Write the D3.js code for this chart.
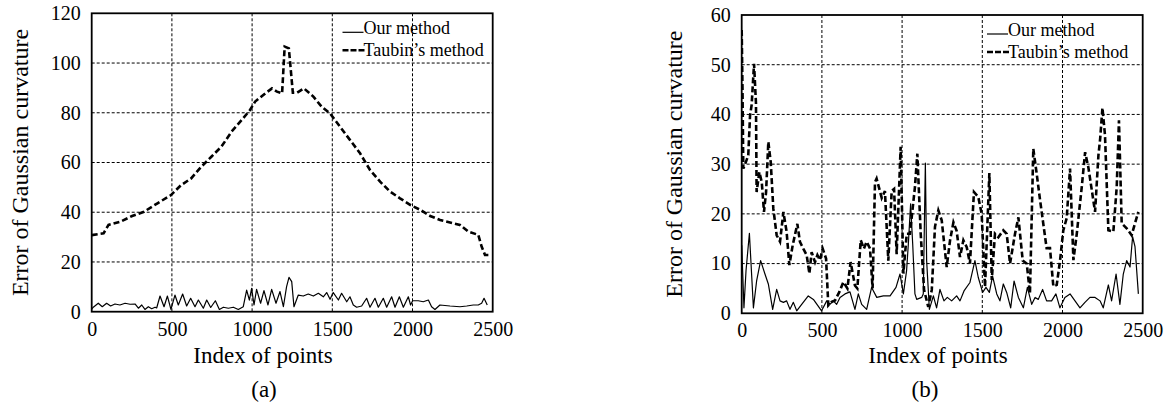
<!DOCTYPE html>
<html>
<head>
<meta charset="utf-8">
<script src="https://cdn.jsdelivr.net/npm/d3@7"></script>
<style>
  body { margin: 0; background: #fff; }
</style>
</head>
<body>
<div id="chartHolder"></div>
<script>
// tick labels
const xTicks = [0, 500, 1000, 1500, 2000, 2500];
const yTicksA = [0, 20, 40, 60, 80, 100, 120];
const yTicksB = [0, 10, 20, 30, 40, 50, 60];
const seriesNames = ["Our method", "Taubin\u2019s method"];

// panel (a): [index, error]
const oursA = [[0,1.0],[10,1.8],[41,3.4],[66,2.0],[93,3.4],[118,2.3],[145,3.1],[176,2.7],[208,3.4],[239,3.0],
  [270,3.1],[291,1.4],[312,2.7],[332,0.9],[353,2.0],[374,1.2],[395,1.8],[405,1.5],[426,6.3],[451,2.0],[472,6.3],
  [494,0.9],[519,6.7],[540,2.7],[567,7.1],[592,2.3],[617,5.4],[644,2.0],[665,4.7],[696,1.4],[717,4.7],[742,1.7],
  [771,4.4],[796,0.9],[821,1.8],[852,1.4],[883,1.8],[914,0.9],[945,2.0],[966,8.7],[983,4.7],[997,9.4],[1012,2.7],
  [1028,9.0],[1053,3.4],[1074,8.5],[1099,2.7],[1122,9.0],[1149,3.4],[1174,8.1],[1195,2.0],[1215,10.1],[1230,13.8],
  [1247,12.1],[1261,2.0],[1288,6.7],[1319,6.3],[1350,7.1],[1382,6.3],[1413,7.4],[1444,6.0],[1465,7.7],[1486,5.0],
  [1506,7.7],[1538,4.7],[1558,7.4],[1590,4.0],[1610,6.0],[1631,2.7],[1652,1.8],[1683,2.3],[1714,5.4],[1735,1.8],
  [1766,5.4],[1787,1.8],[1818,5.4],[1839,1.8],[1870,6.0],[1891,1.8],[1918,6.0],[1943,1.8],[1974,6.0],[1988,2.7],
  [2001,4.4],[2036,4.4],[2067,4.0],[2099,4.7],[2119,2.0],[2140,0.9],[2171,2.7],[2234,2.3],[2296,2.0],[2338,2.3],
  [2379,2.7],[2410,2.7],[2431,3.4],[2446,5.4],[2466,2.7]];

const taubinA = [[0,30.8],[74,31.5],[105,34.9],[179,36.2],[252,38.5],[326,40.2],[410,43.6],[494,46.9],[557,50.9],
  [620,53.6],[683,58.3],[746,62.3],[809,66.4],[872,72.4],[935,77.1],[987,81.1],[1019,84.5],[1082,87.8],[1124,89.8],
  [1155,88.5],[1187,87.8],[1203,106.6],[1229,105.9],[1254,88.1],[1281,88.1],[1323,89.8],[1382,86.5],[1434,82.4],
  [1486,79.7],[1548,74.4],[1611,69],[1673,63.7],[1735,57],[1798,52.3],[1860,48.3],[1922,45.6],[1985,43],[2047,41],
  [2110,38.5],[2172,36.9],[2234,35.9],[2296,34.9],[2348,32.2],[2410,30.9],[2431,26.2],[2452,22.8],[2473,22.8]];

// panel (b)
const oursB = [[0,13.7],[14,1.1],[27,8.6],[48,16.1],[73,1.1],[93,6.5],[118,10.6],[145,7.9],[166,5.9],[193,0.8],
  [218,4.8],[239,2.5],[260,2.2],[280,2.5],[301,0.8],[322,2.2],[343,0.5],[374,1.8],[415,3.5],[447,2.8],[498,0.5],
  [530,2.5],[550,1.8],[571,2.5],[592,1.8],[613,3.2],[644,3.9],[675,4.3],[706,0.8],[727,3.9],[748,1.8],[779,0.8],
  [810,5.2],[842,3.2],[883,3.5],[925,3.5],[962,5.2],[987,7.9],[1008,3.9],[1028,8.6],[1039,14],[1053,22],[1066,14],
  [1080,3.9],[1091,2.8],[1122,3.2],[1132,3.9],[1145,30.2],[1153,10.6],[1170,0.8],[1195,3.5],[1215,1.1],[1236,4.8],
  [1261,2.5],[1282,3.2],[1309,2.5],[1340,3.5],[1361,2.5],[1386,4.5],[1423,6.2],[1454,10.6],[1475,7.2],[1502,4.2],
  [1523,5.2],[1544,4.2],[1564,7.5],[1590,3.9],[1610,2.5],[1631,5.9],[1652,4.2],[1677,1.1],[1698,6.5],[1725,3.2],
  [1756,1.1],[1781,5.2],[1808,1.8],[1829,3.2],[1849,2.8],[1876,4.8],[1901,2.5],[1932,2.5],[1959,3.9],[1984,1.1],
  [2015,3.2],[2047,3.9],[2078,2.5],[2109,1.1],[2140,2.2],[2171,3.2],[2203,3.2],[2234,2.5],[2254,1.1],[2286,5.7],
  [2306,2.5],[2334,7.9],[2358,1.8],[2379,7.9],[2400,10.6],[2421,9.3],[2437,15.4],[2452,13.4],[2473,3.9]];

const taubinB = [[0,57],[5,45],[10,29.1],[27,30.5],[41,31.8],[52,39.8],[62,41.9],[77,50.2],[89,42.2],[93,24.4],
  [110,28.4],[125,26.4],[139,20.4],[152,24.4],[166,34.5],[181,30.4],[197,21.1],[218,15.7],[239,14.4],[260,20.4],
  [280,16.4],[297,9.7],[318,13.7],[347,18.0],[363,14.4],[384,13.0],[405,11.7],[422,8.0],[436,12.3],[457,10.3],
  [472,11.7],[488,10.7],[505,13.0],[526,11.0],[540,1.6],[561,2.3],[582,2.6],[609,4.3],[634,6.3],[659,5.0],
  [679,10.3],[706,5.6],[721,5.0],[742,14.7],[762,13.0],[779,14.4],[800,13.0],[816,5.0],[831,26.4],[841,27.1],
  [873,23.2],[893,24.6],[914,10.6],[935,24.6],[950,25.0],[966,11.9],[991,33.5],[1008,8.0],[1029,16],[1049,16],
  [1080,25.4],[1095,32.1],[1116,16],[1137,4.7],[1163,1.3],[1185,4.7],[1205,17.4],[1226,20.7],[1247,18.7],
  [1278,9.3],[1299,14.7],[1320,18.3],[1340,16.6],[1361,11.3],[1382,14.7],[1403,13.3],[1423,10],[1448,24.4],
  [1475,23.4],[1496,20.0],[1517,5.3],[1544,28.2],[1559,6.7],[1579,16],[1600,15.3],[1631,16.7],[1652,16],[1673,10],
  [1704,16],[1725,19.3],[1752,10.6],[1777,10],[1797,4],[1818,33.1],[1839,28.1],[1860,22.8],[1901,13.1],[1922,13.1],
  [1943,5.4],[1964,5.7],[1985,10.7],[2005,16.7],[2026,19.1],[2047,29.1],[2068,10.7],[2089,16.0],[2120,25.4],
  [2141,32.4],[2161,29.4],[2203,20.4],[2224,31.8],[2235,35.2],[2249,41.3],[2265,35.8],[2286,16.7],[2317,16.4],
  [2338,25.4],[2352,38.8],[2369,18.1],[2400,17.1],[2431,15.7],[2452,18.1],[2473,20.4]];

const width = 1169, height = 410;
const serif = '"Liberation Serif", "Times New Roman", Times, serif';

const svg = d3.select("#chartHolder")
  .append("svg")
    .attr("width", width)
    .attr("height", height)
    .attr("font-family", serif);

function drawPanel(p) {
  const x = d3.scaleLinear().domain([0, 2500]).range([p.left, p.right]);
  const y = d3.scaleLinear().domain([0, p.yMax]).range([p.bottom, p.top]);
  const g = svg.append("g");

  g.append("clipPath").attr("id", p.id + "-clip")
    .append("rect")
      .attr("x", p.left).attr("y", p.top)
      .attr("width", p.right - p.left).attr("height", p.bottom - p.top);

  // grid
  g.append("g")
    .selectAll("line")
    .data(xTicks.slice(1, -1))
    .join("line")
      .attr("x1", d => x(d)).attr("x2", d => x(d))
      .attr("y1", p.top).attr("y2", p.bottom)
      .attr("stroke", "#000").attr("stroke-width", 1).attr("stroke-dasharray", "3,2");
  g.append("g")
    .selectAll("line")
    .data(p.yTicks.slice(1, -1))
    .join("line")
      .attr("y1", d => y(d)).attr("y2", d => y(d))
      .attr("x1", p.left).attr("x2", p.right)
      .attr("stroke", "#000").attr("stroke-width", 1).attr("stroke-dasharray", "3,2");

  // axes (tick labels only)
  const xAxis = g.append("g")
    .attr("transform", `translate(0,${p.bottom})`)
    .call(d3.axisBottom(x).tickValues(xTicks).tickSize(0).tickPadding(10).tickFormat(d3.format("d")));
  const yAxis = g.append("g")
    .attr("transform", `translate(${p.left},0)`)
    .call(d3.axisLeft(y).tickValues(p.yTicks).tickSize(0).tickPadding(11).tickFormat(d3.format("d")));
  [xAxis, yAxis].forEach(a => {
    a.attr("font-family", serif).attr("font-size", 20);
    a.select(".domain").remove();
    a.selectAll("text").attr("fill", "#000");
  });

  const line = d3.line().x(d => x(d[0])).y(d => y(d[1]));

  const lines = g.append("g").attr("clip-path", `url(#${p.id}-clip)`);
  lines.append("path")
    .datum(p.ours)
    .attr("fill", "none")
    .attr("stroke", "#000")
    .attr("stroke-width", 1.2)
    .attr("stroke-linejoin", "round")
    .attr("d", line);
  lines.append("path")
    .datum(p.taubin)
    .attr("fill", "none")
    .attr("stroke", "#000")
    .attr("stroke-width", 2.6)
    .attr("stroke-dasharray", "6,3")
    .attr("d", line);

  // frame
  g.append("rect")
    .attr("x", p.left).attr("y", p.top)
    .attr("width", p.right - p.left).attr("height", p.bottom - p.top)
    .attr("fill", "none")
    .attr("stroke", "#000")
    .attr("stroke-width", 1.8);

  // legend
  const lg = g.append("g").attr("transform", `translate(${p.legendX},${p.top})`);
  lg.append("line")
    .attr("x1", 0).attr("x2", 21).attr("y1", 19).attr("y2", 19)
    .attr("stroke", "#000").attr("stroke-width", 1.2);
  lg.append("line")
    .attr("x1", 0).attr("x2", 22).attr("y1", 37).attr("y2", 37)
    .attr("stroke", "#000").attr("stroke-width", 2.6).attr("stroke-dasharray", "6,2");
  lg.selectAll("text")
    .data(seriesNames)
    .join("text")
      .attr("x", 21)
      .attr("y", (d, i) => 20.5 + i * 22.5)
      .attr("font-size", 18)
      .text(d => d);

  // axis titles
  g.append("text")
    .attr("x", p.titleX)
    .attr("y", 363)
    .attr("text-anchor", "middle")
    .attr("font-size", 23)
    .text("Index of points");
  g.append("text")
    .attr("transform", `translate(${p.yTitleX},${(p.top + p.bottom) / 2}) rotate(-90)`)
    .attr("text-anchor", "middle")
    .attr("font-size", 24)
    .text("Error of Gaussian curvature");
  g.append("text")
    .attr("x", p.captionX)
    .attr("y", 397)
    .attr("text-anchor", "middle")
    .attr("font-size", 23)
    .text(p.caption);
}

drawPanel({
  id: "a", left: 91.7, right: 492.7, top: 13.3, bottom: 311.7,
  yMax: 120, yTicks: yTicksA, ours: oursA, taubin: taubinA,
  legendX: 342.5, titleX: 263, yTitleX: 28, captionX: 264, caption: "(a)"
});
drawPanel({
  id: "b", left: 741.7, right: 1142.7, top: 15, bottom: 313.3,
  yMax: 60, yTicks: yTicksB, ours: oursB, taubin: taubinB,
  legendX: 987, titleX: 938, yTitleX: 682, captionX: 925, caption: "(b)"
});
</script>
</body>
</html>
